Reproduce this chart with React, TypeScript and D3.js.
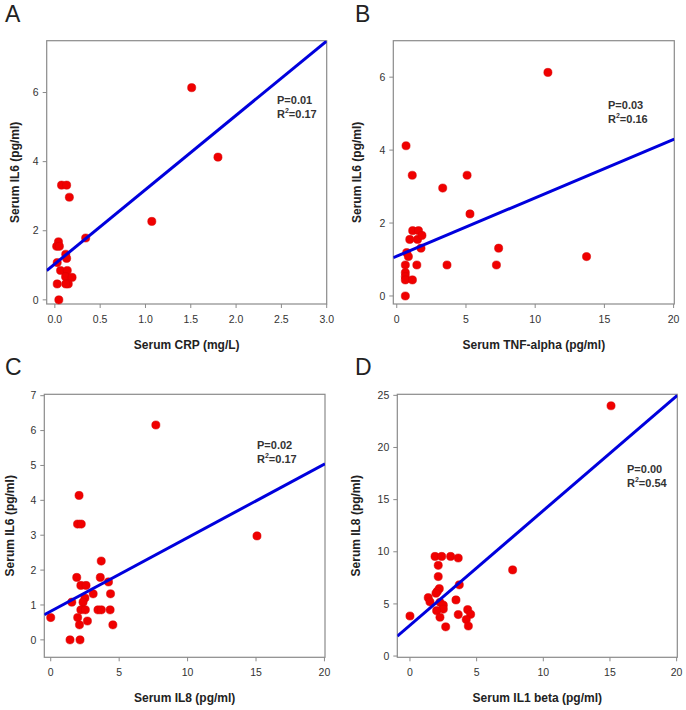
import React from 'react';
import * as d3 from 'd3';

// ---------- DATA ----------
// Panel A: Serum CRP (mg/L) vs Serum IL6 (pg/ml)
const aCRP = [1.51, 1.80, 1.07, 0.34, 0.074, 0.13, 0.16, 0.04, 0.02, 0.05, 0.12, 0.13, 0.026, 0.063, 0.137, 0.118, 0.19, 0.148, 0.12, 0.026, 0.044];
const aIL6 = [6.14, 4.13, 2.27, 1.79, 3.32, 3.32, 2.97, 1.68, 1.55, 1.55, 1.32, 1.2, 1.08, 0.85, 0.85, 0.67, 0.65, 0.46, 0.46, 0.46, 0.0];
// Panel B: Serum TNF-alpha vs Serum IL6
const bTNF = [10.92, 0.67, 1.12, 5.08, 3.32, 5.29, 1.15, 1.57, 0.94, 1.5, 1.82, 1.75, 0.72, 0.84, 7.36, 13.71, 0.62, 1.45, 3.63, 7.2, 0.62, 0.62, 0.62, 1.13, 0.62];
const bIL6 = [6.13, 4.12, 3.31, 3.31, 2.96, 2.25, 1.79, 1.79, 1.55, 1.55, 1.66, 1.31, 1.19, 1.08, 1.31, 1.08, 0.85, 0.85, 0.85, 0.85, 0.64, 0.53, 0.44, 0.44, 0.0];
// Panel C: Serum IL8 vs Serum IL6
const cIL8 = [7.68, 15.07, 2.07, 1.96, 2.23, 3.69, 1.9, 3.62, 4.22, 2.2, 2.58, 3.1, 4.37, 2.5, 1.54, 2.36, 2.2, 2.53, 3.45, 3.7, 4.34, 0, 1.97, 2.68, 2.1, 4.54, 1.41, 2.14];
const cIL6 = [6.16, 2.98, 4.14, 3.32, 3.32, 2.26, 1.79, 1.79, 1.66, 1.56, 1.56, 1.32, 1.32, 1.2, 1.08, 1.08, 0.86, 0.86, 0.86, 0.86, 0.86, 0.64, 0.64, 0.54, 0.43, 0.43, 0.0, 0.0];
// Panel D: Serum IL1 beta vs Serum IL8
const dIL1b = [15.08, 7.7, 1.88, 2.38, 3.05, 3.62, 2.12, 2.12, 3.7, 2.2, 2.05, 1.95, 1.37, 1.5, 3.45, 2.25, 2.5, 2.5, 2.0, 0, 2.25, 3.62, 4.33, 4.55, 4.22, 4.38, 2.68];
const dIL8 = [24.0, 8.26, 9.55, 9.55, 9.55, 9.4, 8.7, 7.62, 6.83, 6.46, 6.2, 6.02, 5.6, 5.2, 5.38, 5.15, 4.88, 4.5, 4.35, 3.84, 3.72, 3.98, 4.45, 4.0, 3.5, 2.88, 2.8];

// Regression fits: [intercept, slope]
const fitA = [1.04, 2.15];
const fitB = [1.09, 0.16];
const fitC = [0.82, 0.211];
const fitD = [2.95, 1.1];

// Stats labels
const pValues = ['0.01', '0.03', '0.02', '0.00'];
const r2Values = ['0.17', '0.16', '0.17', '0.54'];
const letters = ['A', 'B', 'C', 'D'];

// Ticks
const aXTicks = [0, 0.5, 1, 1.5, 2, 2.5, 3];
const aYTicks = [0, 2, 4, 6];
const bXTicks = [0, 5, 10, 15, 20];
const bYTicks = [0, 2, 4, 6];
const cXTicks = [0, 5, 10, 15, 20];
const cYTicks = [0, 1, 2, 3, 4, 5, 6, 7];
const dXTicks = [0, 5, 10, 15, 20];
const dYTicks = [0, 5, 10, 15, 20, 25];

const FONT = 'Arial, "Liberation Sans", Helvetica, sans-serif';

type PanelProps = {
  id: string;
  letter: string;
  letterX: number;
  frame: [number, number, number, number]; // left, top, right, bottom
  xDomain: [number, number];
  yDomain: [number, number];
  xTicks: number[];
  yTicks: number[];
  xFmt: (v: number) => string;
  xs: number[];
  ys: number[];
  fit: number[];
  xTitle: string;
  yTitle: string;
  yTitleX: number;
  p: string;
  r2: string;
  annX: number;
  annY: number;
};

function Panel(props: PanelProps) {
  const [L, T, R, B] = props.frame;
  const x = d3.scaleLinear().domain(props.xDomain).range([L, R]);
  const y = d3.scaleLinear().domain(props.yDomain).range([B, T]);
  const [b0, b1] = props.fit;
  const lx0 = props.xDomain[0];
  const lx1 = props.xDomain[1];
  const line = d3.line<number>().x((d) => x(d)).y((d) => y(b0 + b1 * d));
  const clipId = 'clip-' + props.id;
  const axisColor = '#8a8a8a';
  const textColor = '#333';
  return (
    <g>
      <defs>
        <clipPath id={clipId}>
          <rect x={L} y={T} width={R - L} height={B - T} />
        </clipPath>
      </defs>
      <text x={props.letterX} y={T - 19} fontFamily={FONT} fontSize={23} fill="#222">
        {props.letter}
      </text>
      {/* frame */}
      <rect x={L} y={T} width={R - L} height={B - T} fill="none" stroke={axisColor} strokeWidth={1.2} />
      {/* x ticks */}
      {props.xTicks.map((t) => (
        <g key={'xt' + t}>
          <line x1={x(t)} x2={x(t)} y1={B} y2={B + 4} stroke={axisColor} strokeWidth={1} />
          <text x={x(t)} y={B + 19} textAnchor="middle" fontFamily={FONT} fontSize={10.5} fill={textColor}>
            {props.xFmt(t)}
          </text>
        </g>
      ))}
      {props.yTicks.map((t) => (
        <g key={'yt' + t}>
          <line x1={L - 4} x2={L} y1={y(t)} y2={y(t)} stroke={axisColor} strokeWidth={1} />
          <text x={L - 8} y={y(t)} dy="0.35em" textAnchor="end" fontFamily={FONT} fontSize={10.5} fill={textColor}>
            {t}
          </text>
        </g>
      ))}
      {/* points */}
      {props.xs.map((xv, i) => (
        <circle key={'p' + i} cx={x(xv)} cy={y(props.ys[i])} r={4.1} fill="#f00000" stroke="#d40000" strokeWidth={0.5} />
      ))}
      {/* regression line */}
      <path d={line([lx0, lx1]) || ''} stroke="#0000dd" strokeWidth={3} fill="none" clipPath={`url(#${clipId})`} />
      {/* annotation */}
      <text x={props.annX} y={props.annY} fontFamily={FONT} fontSize={11} fontWeight="bold" fill={textColor}>
        P={props.p}
      </text>
      <text x={props.annX} y={props.annY + 14} fontFamily={FONT} fontSize={11} fontWeight="bold" fill={textColor}>
        R<tspan fontSize={7} dy={-5}>2</tspan>
        <tspan fontSize={11} dy={5}>={props.r2}</tspan>
      </text>
      {/* axis titles */}
      <text x={(L + R) / 2} y={B + 45} textAnchor="middle" fontFamily={FONT} fontSize={12} fontWeight="bold" fill="#222">
        {props.xTitle}
      </text>
      <text
        transform={`translate(${props.yTitleX},${(T + B) / 2}) rotate(-90)`}
        textAnchor="middle"
        fontFamily={FONT}
        fontSize={12}
        fontWeight="bold"
        fill="#222"
      >
        {props.yTitle}
      </text>
    </g>
  );
}

export default function App() {
  const f1 = d3.format('.1f');
  const fd = d3.format('d');
  return (
    <svg
      width={686}
      height={710}
      style={{ position: 'absolute', left: 0, top: 0, background: '#fff' }}
    >
      <rect x={0} y={0} width={686} height={710} fill="#fff" />
      <Panel
        id="a"
        letter={letters[0]}
        letterX={5}
        frame={[46.7, 40.7, 326.7, 304]}
        xDomain={[-0.09, 3.0]}
        yDomain={[-0.12, 7.5]}
        xTicks={aXTicks}
        yTicks={aYTicks}
        xFmt={f1}
        xs={aCRP}
        ys={aIL6}
        fit={fitA}
        xTitle="Serum CRP (mg/L)"
        yTitle="Serum IL6 (pg/ml)"
        yTitleX={18.5}
        p={pValues[0]}
        r2={r2Values[0]}
        annX={277}
        annY={104}
      />
      <Panel
        id="b"
        letter={letters[1]}
        letterX={355}
        frame={[393.3, 40.7, 674.3, 304]}
        xDomain={[-0.25, 20.05]}
        yDomain={[-0.22, 7]}
        xTicks={bXTicks}
        yTicks={bYTicks}
        xFmt={fd}
        xs={bTNF}
        ys={bIL6}
        fit={fitB}
        xTitle="Serum TNF-alpha (pg/ml)"
        yTitle="Serum IL6 (pg/ml)"
        yTitleX={361}
        p={pValues[1]}
        r2={r2Values[1]}
        annX={608}
        annY={109}
      />
      <Panel
        id="c"
        letter={letters[2]}
        letterX={5}
        frame={[44.3, 394.3, 325, 657.3]}
        xDomain={[-0.47, 20.04]}
        yDomain={[-0.5, 7.04]}
        xTicks={cXTicks}
        yTicks={cYTicks}
        xFmt={fd}
        xs={cIL8}
        ys={cIL6}
        fit={fitC}
        xTitle="Serum IL8 (pg/ml)"
        yTitle="Serum IL6 (pg/ml)"
        yTitleX={13.5}
        p={pValues[2]}
        r2={r2Values[2]}
        annX={257}
        annY={448.5}
      />
      <Panel
        id="d"
        letter={letters[3]}
        letterX={355}
        frame={[397.3, 394.3, 677.3, 657.3]}
        xDomain={[-0.95, 20.05]}
        yDomain={[-0.12, 25.1]}
        xTicks={dXTicks}
        yTicks={dYTicks}
        xFmt={fd}
        xs={dIL1b}
        ys={dIL8}
        fit={fitD}
        xTitle="Serum IL1 beta (pg/ml)"
        yTitle="Serum IL8 (pg/ml)"
        yTitleX={360}
        p={pValues[3]}
        r2={r2Values[3]}
        annX={627}
        annY={473}
      />
    </svg>
  );
}
